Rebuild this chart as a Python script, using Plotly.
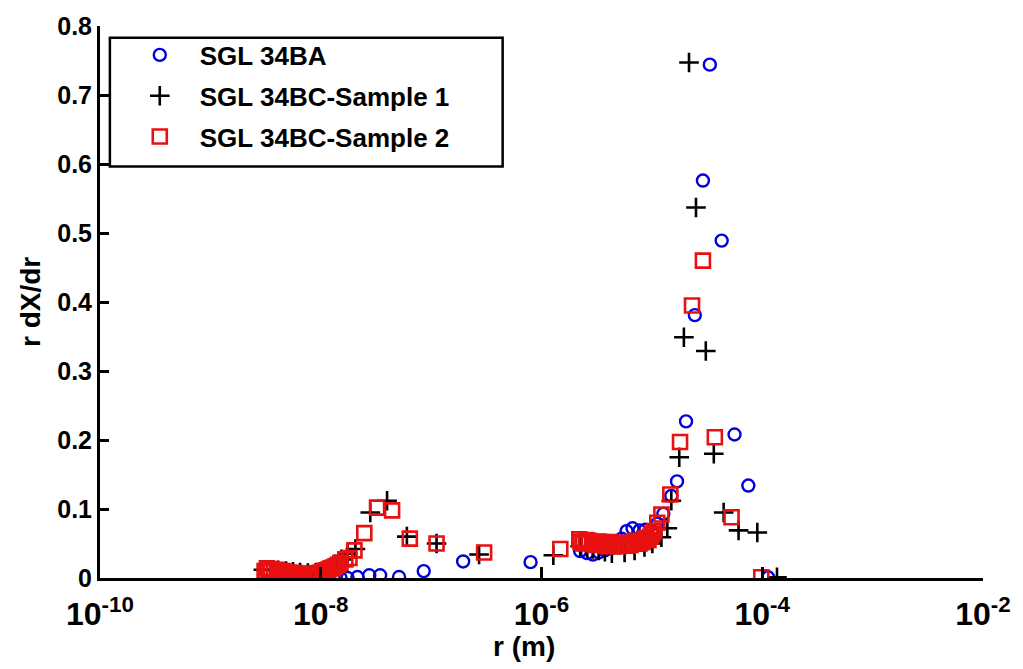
import plotly.graph_objects as go

# ---------------- data ----------------
ba_r = [6.22e-9, 7.64e-9, 9.39e-9, 1.11e-8, 1.31e-8, 1.51e-8, 1.75e-8, 2.15e-8, 2.75e-8, 3.45e-8,
        5.12e-8, 8.57e-8, 1.95e-7, 7.96e-7,
        2.24e-6, 2.59e-6, 2.92e-6, 3.31e-6, 3.75e-6, 4.25e-6, 4.81e-6, 5.32e-6, 5.90e-6, 6.68e-6,
        7.73e-6, 8.75e-6, 9.91e-6, 1.12e-5, 1.27e-5, 1.50e-5, 1.69e-5, 2.04e-5, 2.45e-5, 2.90e-5,
        3.35e-5, 4.29e-5, 5.61e-5, 7.48e-5, 1.13e-4]
ba_y = [0.002, 0.001, 0.0, 0.0, 0.0, 0.0, 0.0, 0.0014, 0.004, 0.004,
        0.0015, 0.010, 0.024, 0.023,
        0.039, 0.036, 0.034, 0.037, 0.040, 0.045, 0.050, 0.057, 0.068, 0.072,
        0.069, 0.070, 0.069, 0.079, 0.093, 0.119, 0.140, 0.227, 0.381, 0.576,
        0.744, 0.489, 0.208, 0.134, 0.001]

s1_r = [3.02e-9, 3.49e-9, 4.11e-9, 4.85e-9, 5.61e-9, 6.49e-9, 7.64e-9, 9.02e-9, 1.04e-8, 1.21e-8,
        1.36e-8, 1.54e-8, 1.75e-8, 2.06e-8, 2.81e-8, 3.99e-8, 6.03e-8, 1.12e-7, 2.72e-7, 1.28e-6,
        2.24e-6, 2.59e-6, 2.92e-6, 3.31e-6, 3.75e-6, 4.34e-6, 5.66e-6, 6.97e-6, 8.57e-6, 1.01e-5,
        1.22e-5, 1.38e-5, 1.50e-5, 1.77e-5, 1.95e-5, 2.17e-5, 2.51e-5, 3.08e-5, 3.64e-5, 4.47e-5,
        6.10e-5, 9.02e-5, 1.36e-4]
s1_y = [0.012, 0.012, 0.011, 0.010, 0.009, 0.008, 0.007, 0.008, 0.010, 0.014,
        0.020, 0.027, 0.035, 0.042, 0.095, 0.112, 0.060, 0.050, 0.034, 0.033,
        0.046, 0.044, 0.042, 0.040, 0.038, 0.036, 0.037, 0.040, 0.045, 0.050,
        0.059, 0.072, 0.112, 0.175, 0.349, 0.747, 0.537, 0.329, 0.180, 0.095,
        0.069, 0.066, 0.001]

s2_r = [3.10e-9, 3.25e-9, 3.40e-9, 3.56e-9, 3.79e-9, 4.03e-9, 4.28e-9, 4.56e-9, 4.85e-9, 5.17e-9,
        5.50e-9, 5.85e-9, 6.22e-9, 6.62e-9, 7.05e-9, 7.50e-9, 7.96e-9, 8.48e-9, 9.02e-9, 9.50e-9,
        1.00e-8, 1.05e-8, 1.11e-8, 1.17e-8, 1.23e-8, 1.29e-8, 1.36e-8, 1.43e-8, 1.51e-8, 1.67e-8,
        1.82e-8, 2.02e-8, 2.48e-8, 3.24e-8, 4.43e-8, 6.41e-8, 1.12e-7, 3.02e-7, 1.48e-6,
        2.20e-6, 2.26e-6, 2.38e-6, 2.53e-6, 2.69e-6, 2.87e-6, 3.05e-6, 3.25e-6, 3.45e-6, 3.68e-6,
        3.91e-6, 4.16e-6, 4.43e-6, 4.71e-6, 5.01e-6, 5.33e-6, 5.66e-6, 6.02e-6, 6.41e-6, 6.82e-6,
        7.26e-6, 7.73e-6, 8.22e-6, 8.57e-6, 8.93e-6, 9.32e-6, 9.71e-6, 1.01e-5, 1.05e-5,
        1.12e-5, 1.22e-5, 1.47e-5, 1.80e-5, 2.31e-5,
        2.90e-5, 3.72e-5, 5.27e-5, 9.80e-5]
s2_y = [0.010, 0.014, 0.010, 0.013, 0.010, 0.012, 0.009, 0.010, 0.007, 0.008,
        0.006, 0.007, 0.005, 0.006, 0.005, 0.006, 0.005, 0.006, 0.006, 0.007,
        0.008, 0.009, 0.011, 0.012, 0.014, 0.015, 0.017, 0.019, 0.022, 0.027,
        0.029, 0.040, 0.065, 0.102, 0.098, 0.057, 0.050, 0.037, 0.042,
        0.056, 0.052, 0.050, 0.055, 0.054, 0.050, 0.048, 0.053, 0.052, 0.049,
        0.046, 0.052, 0.050, 0.048, 0.046, 0.050, 0.051, 0.047, 0.048, 0.052,
        0.054, 0.050, 0.052, 0.056, 0.058, 0.055, 0.060, 0.064, 0.068,
        0.080, 0.092, 0.121, 0.197, 0.395,
        0.460, 0.204, 0.088, 0.001]

x_tickvals = [1e-10, 1e-8, 1e-6, 1e-4, 1e-2]
x_ticktext = ["10<sup>-10</sup>", "10<sup>-8</sup>", "10<sup>-6</sup>", "10<sup>-4</sup>", "10<sup>-2</sup>"]
y_tickvals = [0, 0.1, 0.2, 0.3, 0.4, 0.5, 0.6, 0.7, 0.8]
y_ticktext = ["0", "0.1", "0.2", "0.3", "0.4", "0.5", "0.6", "0.7", "0.8"]

names = ["SGL 34BA", "SGL 34BC-Sample 1", "SGL 34BC-Sample 2"]

# ---------------- figure ----------------
FONT = "Liberation Sans, Arial, sans-serif"
BLUE = "#0000dd"
RED = "#e81010"

fig = go.Figure()
fig.add_trace(go.Scatter(x=ba_r, y=ba_y, mode="markers", name=names[0], legendgroup="a",
                         marker=dict(symbol="circle-open", size=12, color=BLUE,
                                     line=dict(width=2.4, color=BLUE))))
fig.add_trace(go.Scatter(x=s1_r, y=s1_y, mode="markers", name=names[1], legendgroup="b",
                         marker=dict(symbol="cross-thin-open", size=14, color="black",
                                     line=dict(width=2.6, color="black"))))
fig.add_trace(go.Scatter(x=s2_r, y=s2_y, mode="markers", name=names[2], legendgroup="c",
                         marker=dict(symbol="square-open", size=14, color=RED,
                                     line=dict(width=2.6, color=RED))))

fig.update_layout(
    width=1023, height=669,
    margin=dict(l=100, r=31, t=20, b=91),
    paper_bgcolor="white", plot_bgcolor="white",
    font=dict(family=FONT, size=25, color="black", weight="bold"),
    showlegend=True,
    legend=dict(x=0.0224, y=0.99, xanchor="left", yanchor="top",
                bgcolor="rgba(0,0,0,0)", borderwidth=0,
                traceorder="grouped", tracegroupgap=4,
                font=dict(family=FONT, size=26, color="black", weight="bold"),
                itemwidth=70),
    xaxis=dict(type="log", range=[-10, -2], tickvals=x_tickvals, ticktext=x_ticktext,
               showgrid=False, zeroline=False, showline=True, linecolor="black", linewidth=3,
               ticks="inside", ticklen=11, tickwidth=2.5, tickcolor="black",
               ticklabelstandoff=6,
               tickfont=dict(family=FONT, size=32, weight="bold")),
    yaxis=dict(range=[0, 0.8], tickvals=y_tickvals, ticktext=y_ticktext,
               showgrid=False, zeroline=False, showline=True, linecolor="black", linewidth=3,
               ticks="inside", ticklen=9, tickwidth=2.5, tickcolor="black",
               tickfont=dict(family=FONT, size=25, weight="bold")),
    shapes=[dict(type="rect", xref="paper", yref="paper",
                 x0=0.0112, x1=0.456, y0=0.7455, y1=0.9785,
                 line=dict(color="black", width=2.5), fillcolor="white", layer="below")],
    annotations=[
        dict(text="r (m)", xref="paper", yref="paper", x=0.48, y=0, yshift=-68,
             xanchor="center", yanchor="middle", showarrow=False,
             font=dict(family=FONT, size=28, weight="bold")),
        dict(text="r dX/dr", xref="paper", yref="paper", x=0, xshift=-70, y=0.5,
             textangle=-90, xanchor="center", yanchor="middle", showarrow=False,
             font=dict(family=FONT, size=28, weight="bold")),
    ],
)

fig.write_html("out.html")
